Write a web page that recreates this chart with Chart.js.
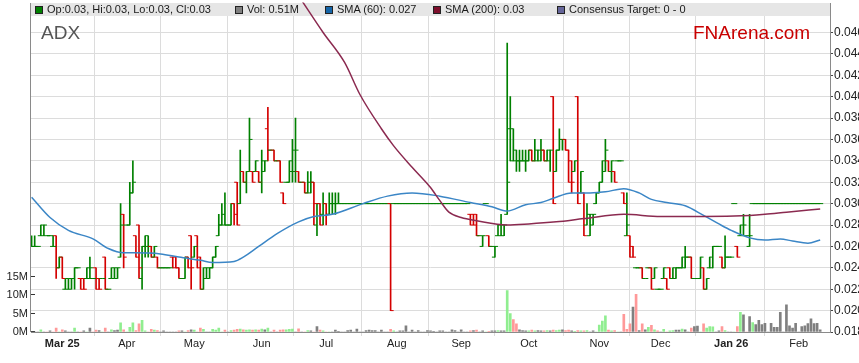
<!DOCTYPE html>
<html>
<head>
<meta charset="utf-8">
<title>ADX</title>
<script src="https://cdn.jsdelivr.net/npm/chart.js@4.4.1/dist/chart.umd.min.js"></script>
<style>
    html, body { margin: 0; padding: 0; background: #fff; }
    #wrap { position: relative; width: 859px; height: 363px; font-family: Arial, "Liberation Sans", sans-serif; }
    #chart { position: absolute; left: 0; top: 0; }
    .lg { position: absolute; top: 3px; height: 13px; line-height: 13px; font-size: 11px; color: #1a1a1a; white-space: nowrap; }
    .lg b { position: absolute; left: 0; top: 3px; width: 8px; height: 8px; box-sizing: border-box; border: 1px solid #222; }
    .lg span { position: absolute; left: 12px; top: 0; }
    .code { position: absolute; left: 41px; top: 23px; font-size: 19px; line-height: 19px; color: #555; }
    .brand { position: absolute; left: 693px; top: 23px; font-size: 19px; line-height: 19px; color: #c80000; }
</style>
</head>
<body>
<div id="wrap">
    <canvas id="chart" width="859" height="363"></canvas>
    <div class="lg" style="left:35px"><b style="background:#008000"></b><span>Op:0.03, Hi:0.03, Lo:0.03, Cl:0.03</span></div>
    <div class="lg" style="left:235px"><b style="background:#808080"></b><span>Vol: 0.51M</span></div>
    <div class="lg" style="left:325px"><b style="background:#1565a8"></b><span>SMA (60): 0.027</span></div>
    <div class="lg" style="left:433px"><b style="background:#7d0f2c"></b><span>SMA (200): 0.03</span></div>
    <div class="lg" style="left:557px"><b style="background:#66669a"></b><span>Consensus Target: 0 - 0</span></div>
    <div class="code">ADX</div>
    <div class="brand">FNArena.com</div>
</div>
<script>
// ==========================================
// DATA (one slot per weekday, slot 0 = Mon 17 Feb 2025)
// ==========================================
const MONTH_TICKS = [10, 31, 53, 75, 96, 119, 140, 162, 185, 205, 228, 250];
const MONTH_LABELS = ['Mar 25', 'Apr', 'May', 'Jun', 'Jul', 'Aug', 'Sep', 'Oct', 'Nov', 'Dec', 'Jan 26', 'Feb'];
const PRICE_TICKS = [0.018, 0.020, 0.022, 0.024, 0.026, 0.028, 0.030, 0.032, 0.034, 0.036, 0.038, 0.040, 0.042, 0.044, 0.046];
const VOL_TICKS = [0, 5, 10, 15];

// prices in tenths of a cent (0.001)
const OPEN = [
    26,26,26,27,27,27,27,26,27,24, 25,22,22,22,23,24,23,23,23,23,
    23,24,23,23,25,22,23,23,23,25, 29,28,28,31,27,28,23,26,26,26,
    25,25,24,24,24,24,25,25,24,23, 23,25,27,25,27,25,22,23,23,24,
    25,27,28,28,28,28,30,32,30,33, 32,33,33,33,33,32,33,37,35,35,
    34,34,31,32,32,33,33,33,32,32, 31,31,32,28,30,29,30,29,30,30,
    30,30,30,30,30,30,30,30,30,30, 30,30,30,30,30,30,30,30,30,30,
    30,30,30,30,30,30,30,30,30,30, 30,30,30,30,30,30,30,30,30,30,
    30,30,30,29,29,29,27,26,30,27, 26,25,27,27,27,29,37,34,34,34,
    34,34,34,35,34,34,34,35,34,34, 40,33,35,36,36,35,34,33,40,31,
    31,28,27,28,30,31,32,33,34,33, 33,34,34,31,27,27,26,24,24,24,
    23,24,24,23,22,22,23,23,24,23, 23,24,24,24,25,25,23,23,23,24,
    22,24,24,26,26,25,24,25,25,30, 26,27,27,27,26,30,30,30,30,30,
    30,30,30,30,30,30,30,30,30,30, 30,30,30,30,30,30,30,30
];
const HIGH = [
    27,27,26,28,28,27,27,27,27,25, 25,23,23,23,24,24,23,23,24,25,
    23,24,23,23,25,22,24,24,24,30, 29,28,32,34,27,28,26,27,27,26,
    26,25,24,24,24,24,25,25,24,23, 25,25,27,26,27,25,24,24,24,25,
    26,29,30,31,28,30,30,32,35,33, 33,38,33,34,33,35,34,39,35,35,
    34,34,31,32,34,36,38,33,32,32, 33,33,32,30,30,31,30,31,31,31,
    31,30,30,30,30,30,30,30,30,30, 30,30,30,30,30,30,30,30,30,30,
    30,30,30,30,30,30,30,30,30,30, 30,30,30,30,30,30,30,30,30,30,
    30,30,30,29,29,29,27,27,30,27, 26,26,28,29,28,45,40,37,35,35,
    35,35,35,35,36,35,36,35,35,35, 40,35,37,36,36,35,34,34,40,33,
    31,30,29,29,31,32,34,36,34,34, 33,34,34,31,31,27,26,24,24,24,
    23,24,24,24,22,22,24,23,24,24, 24,24,25,26,25,25,23,23,25,24,
    23,25,26,26,26,25,27,25,25,30, 26,28,29,27,29,30,30,30,30,30,
    30,30,30,30,30,30,30,30,30,30, 30,30,30,30,30,30,30,30
];
const LOW = [
    26,26,26,27,27,27,27,26,23,24, 23,22,22,22,22,24,22,22,23,23,
    23,22,22,23,22,22,23,23,23,25, 24,28,28,31,25,23,22,25,25,25,
    25,24,24,24,24,24,24,24,23,23, 23,24,22,25,24,22,22,23,23,24,
    25,27,28,28,28,28,28,28,30,32, 31,33,32,33,32,31,33,34,35,34,
    34,32,30,32,32,32,32,32,32,31, 31,31,28,27,28,28,28,29,29,29,
    30,30,30,30,30,30,30,30,30,30, 30,30,30,30,30,30,30,20,30,30,
    30,30,30,30,30,30,30,30,30,30, 30,30,30,30,30,30,30,30,30,30,
    30,30,30,28,28,27,27,26,30,26, 26,25,27,27,27,29,34,34,33,33,
    34,33,34,34,34,34,34,34,34,33, 30,33,35,35,35,32,31,33,30,31,
    27,28,27,28,30,31,32,33,33,32, 32,34,34,30,27,25,25,24,24,23,
    23,24,22,23,22,22,23,22,23,23, 23,24,24,24,25,23,23,23,23,22,
    22,24,24,26,26,24,24,25,25,30, 25,27,27,27,26,30,30,30,30,30,
    30,30,30,30,30,30,30,30,30,30, 30,30,30,30,30,30,30,30
];
const CLOSE = [
    26,26,26,28,28,27,27,26,24,25, 23,23,23,23,24,24,22,22,24,24,
    23,22,22,23,22,22,24,24,24,28, 25,28,31,32,25,24,26,27,26,25,
    26,24,24,24,24,24,24,24,23,23, 25,24,24,26,24,22,24,24,24,25,
    26,28,29,28,28,30,29,28,33,32, 33,36,32,34,32,34,34,35,35,34,
    34,32,30,32,34,35,35,32,32,31, 32,32,30,30,28,30,29,30,30,30,
    30,30,30,30,30,30,30,30,30,30, 30,30,30,30,30,30,30,20,30,30,
    30,30,30,30,30,30,30,30,30,30, 30,30,30,30,30,30,30,30,30,30,
    30,30,30,28,28,27,27,27,30,26, 26,26,28,28,28,32,37,35,34,34,
    34,34,35,34,35,35,35,34,35,35, 30,35,36,36,35,32,32,34,30,33,
    27,29,29,29,31,32,34,35,33,34, 32,34,34,30,28,25,25,24,24,23,
    23,24,22,24,22,22,24,22,23,24, 24,24,25,25,25,23,23,23,25,22,
    23,25,26,26,26,24,25,25,25,30, 25,28,28,27,27,30,30,30,30,30,
    30,30,30,30,30,30,30,30,30,30, 30,30,30,30,30,30,30,30
];
// volume in millions of shares
const VOLUME = [
    0,0,0,0.6,0,0,0.3,0,1.1,0, 0.6,0.3,0,0,1.1,0,0,0.3,0,1.1,
    0,0.5,0.4,0,1.1,0,0.6,0.4,0.5,2.5, 0.6,0,1.3,2.5,0.4,2.2,3.2,0.3,0,0.7,
    0.5,0.4,0,0.3,0,0,0,0,0.3,0.3, 0,0.4,0.6,0.5,0,1.1,0.7,0,0,0.7,
    0.5,1.1,0,0.5,0,0.4,0.5,0.7,0.8,0.6, 0.5,0.6,0.5,0.6,0.5,0.8,0.6,1.1,0,0.5,
    0,0.5,0.6,0.6,0.7,0.8,0,0.9,0,0, 0.4,0.3,0,1.5,0.5,0.3,0,0,0,0.5,
    0.2,0,0,0.4,0.5,0,0.8,0,0,0.4, 0.5,0.4,0.4,0,0.5,0,0,0.7,0.3,0,
    0.3,0.3,1.7,0,0.5,0,0.4,0,0,0.4, 0.3,0.2,0,0.3,0.3,0,0,0.6,0.4,0,
    0.6,0,0,0.3,0.4,0.5,0,0.3,0,0.2, 0.3,0.3,0.4,0.3,0.3,11.3,5.0,3.4,2.2,0.6,
    0.4,0.3,0.3,0.5,0.3,0.4,0.3,0.3,0.4,0.3, 0.5,0.4,0.5,0.6,0.4,0.5,0.3,0.2,0.4,0.3,
    0.3,0.4,0,0.3,0,1.9,3.0,4.4,0.5,0.3, 0.4,0,0,4.8,0.7,2.2,6.8,10.3,0.4,2.2,
    0.6,1.3,1.8,0.6,0.3,0,0.7,0,0.3,0.4, 0.5,0.5,0.8,0.6,0,1.1,1.5,1.6,0,2.2,
    1.1,1.5,1.4,0,0.3,1.5,0.4,0,0,0, 1.5,5.4,4.7,0,4.2,2.6,2.0,3.2,2.0,2.4,
    0,2.4,1.3,1.3,5.4,0,7.4,1.7,1.1,2.4, 0,1.5,1.7,2.3,3.6,2.3,2.4,0.6
];

// moving averages (slot, price)
const SMA60_AT = [0, 6, 12, 20, 25, 30, 33, 42, 48, 55, 59, 66, 69, 74, 80, 87, 92, 98, 108, 116, 124, 133, 143, 150, 155, 161, 166, 170, 176, 182, 187, 193, 198, 202, 207, 213, 219, 224, 228, 234, 239, 244, 248, 253, 257];
const SMA60 = [0.0306, 0.0287, 0.0275, 0.0267, 0.0258, 0.0254, 0.0254, 0.0253, 0.0250, 0.0247, 0.0245, 0.0246, 0.0250, 0.0260, 0.0272, 0.0283, 0.0288, 0.0290, 0.0300, 0.0307, 0.0310, 0.0307, 0.0301, 0.0297, 0.0293, 0.0299, 0.0301, 0.0305, 0.0310, 0.0310, 0.0311, 0.0314, 0.0310, 0.0304, 0.0301, 0.0298, 0.0289, 0.0281, 0.0275, 0.0268, 0.0266, 0.0267, 0.0265, 0.0263, 0.0266];
const SMA200_AT = [88, 95, 102, 107, 114, 118, 124, 130, 133, 136, 140, 145, 155, 162, 171, 180, 193, 205, 219, 234, 239, 246, 257];
const SMA200 = [0.0490, 0.0460, 0.0432, 0.0402, 0.0370, 0.0354, 0.0334, 0.0315, 0.0303, 0.0292, 0.0287, 0.0284, 0.0280, 0.0281, 0.0283, 0.0286, 0.0290, 0.0288, 0.0288, 0.0289, 0.0290, 0.0292, 0.0295];

// ==========================================
// BUILD DATASETS
// ==========================================
const UNIT = 0.001;
const GREEN = '#008000';
const RED = '#d40000';

const barColor = OPEN.map((o, i) => CLOSE[i] < o ? RED : GREEN);
const volColor = CLOSE.map((c, i) => {
    const prev = i > 0 ? CLOSE[i - 1] : c;
    if (c > prev) return '#90ee90';
    if (c < prev) return '#ff9999';
    return '#808080';
});

const hlData = OPEN.map((o, i) => ({ x: i, y: [LOW[i] * UNIT, HIGH[i] * UNIT] }));
const openData = OPEN.map((o, i) => ({ x: i - 0.5, y: o * UNIT }));
const closeData = CLOSE.map((c, i) => ({ x: i + 0.5, y: c * UNIT }));
const volData = VOLUME.map((v, i) => ({ x: i, y: v }));
const sma60Data = SMA60_AT.map((x, i) => ({ x: x, y: SMA60[i] }));
const sma200Data = SMA200_AT.map((x, i) => ({ x: x, y: SMA200[i] }));

// legend strip + plot frame, painted under the marks
const framePlugin = {
    id: 'frame',
    beforeDatasetsDraw(chart) {
        const { ctx, chartArea: a } = chart;
        ctx.save();
        ctx.fillStyle = '#fff';
        ctx.fillRect(a.left - 2, 0, a.right - a.left + 4, 3);
        ctx.fillStyle = '#e6e6e6';
        ctx.fillRect(a.left, 3, a.right - a.left, 13);
        ctx.strokeStyle = '#8a8a8a';
        ctx.lineWidth = 1;
        ctx.beginPath();
        ctx.moveTo(a.left - 0.5, 3);
        ctx.lineTo(a.left - 0.5, a.bottom);
        ctx.moveTo(a.right + 0.5, 3);
        ctx.lineTo(a.right + 0.5, a.bottom);
        ctx.stroke();
        // volume ticks point into the plot
        const vol = chart.scales.vol;
        ctx.strokeStyle = '#333';
        ctx.beginPath();
        vol.ticks.forEach(t => {
            const y = Math.round(vol.getPixelForValue(t.value)) - 0.5;
            ctx.moveTo(a.left, y);
            ctx.lineTo(a.left + 4, y);
        });
        ctx.stroke();
        ctx.restore();
    }
};

Chart.defaults.font.family = 'Arial, "Liberation Sans", sans-serif';
Chart.defaults.font.size = 11;
Chart.defaults.color = '#222';

new Chart(document.getElementById('chart'), {
    type: 'bar',
    data: {
        datasets: [
            {
                type: 'line', label: 'SMA (200)', data: sma200Data, yAxisID: 'price',
                borderColor: '#8b2a50', borderWidth: 1.5, pointRadius: 0,
                tension: 0.4, cubicInterpolationMode: 'monotone', order: 0
            },
            {
                type: 'line', label: 'SMA (60)', data: sma60Data, yAxisID: 'price',
                borderColor: '#3b86c6', borderWidth: 1.5, pointRadius: 0,
                tension: 0.4, cubicInterpolationMode: 'monotone', order: 1
            },
            {
                type: 'scatter', label: 'open', data: openData, yAxisID: 'price',
                pointStyle: 'line', pointRadius: 1.5, pointHoverRadius: 1.5,
                borderColor: barColor, borderWidth: 1, order: 2
            },
            {
                type: 'scatter', label: 'close', data: closeData, yAxisID: 'price',
                pointStyle: 'line', pointRadius: 1.5, pointHoverRadius: 1.5,
                borderColor: barColor, borderWidth: 1, order: 2
            },
            {
                label: 'range', data: hlData, yAxisID: 'price',
                backgroundColor: barColor, barThickness: 1, grouped: false, order: 3
            },
            {
                label: 'Vol', data: volData, yAxisID: 'vol',
                backgroundColor: volColor, barThickness: 2, grouped: false, order: 4
            }
        ]
    },
    options: {
        responsive: false,
        animation: false,
        devicePixelRatio: 1,
        layout: { padding: 0 },
        plugins: { legend: { display: false }, tooltip: { enabled: false } },
        scales: {
            x: {
                type: 'linear', min: -0.2, max: 260.2, offset: false,
                grid: { color: '#dcdcdc', tickLength: 4, tickColor: '#dcdcdc' },
                border: { color: '#8a8a8a' },
                afterBuildTicks: s => { s.ticks = MONTH_TICKS.map(v => ({ value: v })); },
                afterFit: s => { s.height = 31; s.paddingLeft = 0; s.paddingRight = 0; },
                ticks: {
                    autoSkip: false, maxRotation: 0, padding: 1, color: '#222',
                    callback: v => MONTH_LABELS[MONTH_TICKS.indexOf(v)],
                    font: c => ({
                        size: 11,
                        weight: c.tick && MONTH_LABELS[MONTH_TICKS.indexOf(c.tick.value)].includes(' ') ? 'bold' : 'normal'
                    })
                }
            },
            price: {
                type: 'linear', position: 'right', min: 0.018, max: 0.0488,
                grid: { color: '#dcdcdc', tickLength: 3, tickColor: '#444' },
                border: { display: false },
                afterBuildTicks: s => { s.ticks = PRICE_TICKS.map(v => ({ value: v })); },
                afterFit: s => { s.width = 29; s.paddingTop = 0; s.paddingBottom = 0; },
                ticks: { padding: 1, font: { size: 12 }, callback: v => v.toFixed(3) }
            },
            vol: {
                type: 'linear', position: 'left', min: 0, max: 90,
                grid: { drawOnChartArea: false, drawTicks: false },
                border: { display: false },
                afterBuildTicks: s => { s.ticks = VOL_TICKS.map(v => ({ value: v })); },
                afterFit: s => { s.width = 31; s.paddingTop = 0; s.paddingBottom = 0; },
                ticks: { padding: 3, callback: v => v + 'M' }
            }
        }
    },
    plugins: [framePlugin]
});
</script>
</body>
</html>
